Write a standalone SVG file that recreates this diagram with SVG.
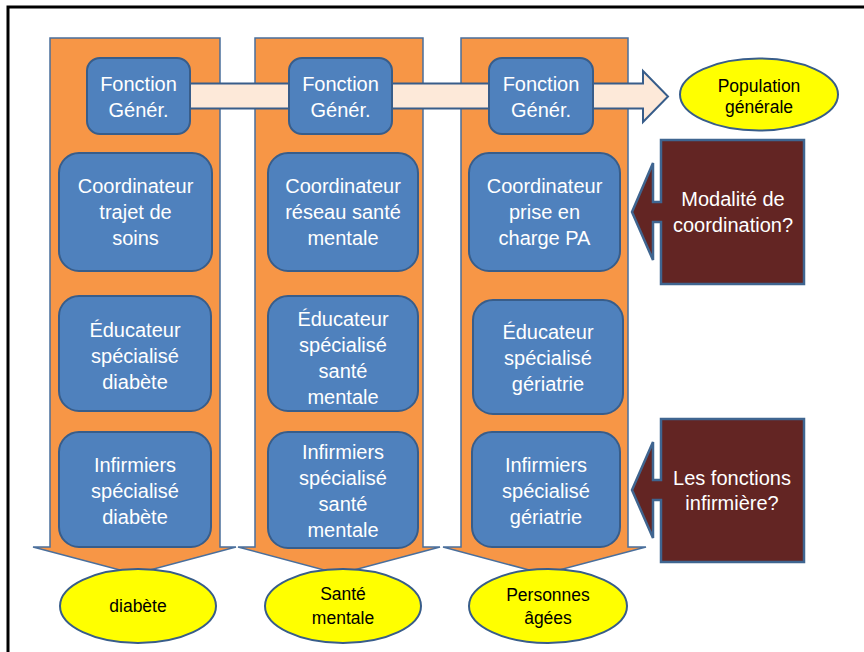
<svg xmlns="http://www.w3.org/2000/svg" width="864" height="652" viewBox="0 0 864 652">
<style>
.col{fill:#f79646;stroke:#4a6f9c;stroke-width:1.5}
.box{fill:#4f81bd;stroke:#385d8a;stroke-width:2}
.bt{font-family:"Liberation Sans",Arial,sans-serif;font-size:20px;fill:#ffffff;text-anchor:middle}
.ell{fill:#ffff00;stroke:#385d8a;stroke-width:2}
.et{font-family:"Liberation Sans",Arial,sans-serif;font-size:17.5px;fill:#000000;text-anchor:middle}
.call{fill:#632523;stroke:#3f6590;stroke-width:2.5}
.ct{font-family:"Liberation Sans",Arial,sans-serif;font-size:20px;fill:#ffffff;text-anchor:middle}
.harr{fill:#fde9d9;stroke:#385d8a;stroke-width:2}
</style>
<rect x="0" y="0" width="864" height="652" fill="#ffffff"/>
<rect x="8" y="7" width="900" height="700" fill="none" stroke="#000000" stroke-width="3"/>

<g id="col-diabete">
<polygon class="col" points="50,38 220,38 220,547 236,547 135,574 33,547 50,547"/>
</g>
<g id="col-sante">
<polygon class="col" points="255,38 423,38 423,547 440,547 339,574 238,547 255,547"/>
</g>
<g id="col-pa">
<polygon class="col" points="461,38 628,38 628,547 646,547 544,574 443,547 461,547"/>
</g>

<g id="connectors">
<polygon class="harr" points="140,83.5 643,83.5 643,71 668,96.5 643,122 643,108.5 140,108.5"/>
</g>

<g id="fg1"><rect class="box" x="87" y="58" width="103" height="76" rx="13"/>
<text class="bt" x="138.5" y="91">Fonction</text><text class="bt" x="138.5" y="117">Génér.</text></g>
<g id="fg2"><rect class="box" x="289" y="58" width="103" height="76" rx="13"/>
<text class="bt" x="340.5" y="91">Fonction</text><text class="bt" x="340.5" y="117">Génér.</text></g>
<g id="fg3"><rect class="box" x="489" y="58" width="104" height="76" rx="13"/>
<text class="bt" x="541" y="91">Fonction</text><text class="bt" x="541" y="117">Génér.</text></g>

<g id="coord1"><rect class="box" x="59" y="153" width="153" height="118" rx="20"/>
<text class="bt" x="135.5" y="193">Coordinateur</text><text class="bt" x="135.5" y="219">trajet de</text><text class="bt" x="135.5" y="245">soins</text></g>
<g id="coord2"><rect class="box" x="268" y="153" width="150" height="118" rx="20"/>
<text class="bt" x="343" y="193">Coordinateur</text><text class="bt" x="343" y="219">réseau santé</text><text class="bt" x="343" y="245">mentale</text></g>
<g id="coord3"><rect class="box" x="469" y="153" width="151" height="118" rx="20"/>
<text class="bt" x="544.5" y="193">Coordinateur</text><text class="bt" x="544.5" y="219">prise en</text><text class="bt" x="544.5" y="245">charge PA</text></g>

<g id="edu1"><rect class="box" x="59" y="296" width="152" height="115" rx="20"/>
<text class="bt" x="135" y="337">Éducateur</text><text class="bt" x="135" y="363">spécialisé</text><text class="bt" x="135" y="389">diabète</text></g>
<g id="edu2"><rect class="box" x="268" y="296" width="150" height="115" rx="20"/>
<text class="bt" x="343" y="326">Éducateur</text><text class="bt" x="343" y="352">spécialisé</text><text class="bt" x="343" y="378">santé</text><text class="bt" x="343" y="404">mentale</text></g>
<g id="edu3"><rect class="box" x="473" y="300" width="150" height="114" rx="20"/>
<text class="bt" x="548" y="339">Éducateur</text><text class="bt" x="548" y="365">spécialisé</text><text class="bt" x="548" y="391">gériatrie</text></g>

<g id="inf1"><rect class="box" x="59" y="432" width="152" height="115" rx="20"/>
<text class="bt" x="135" y="472">Infirmiers</text><text class="bt" x="135" y="498">spécialisé</text><text class="bt" x="135" y="524">diabète</text></g>
<g id="inf2"><rect class="box" x="268" y="432" width="150" height="116" rx="20"/>
<text class="bt" x="343" y="459">Infirmiers</text><text class="bt" x="343" y="485">spécialisé</text><text class="bt" x="343" y="511">santé</text><text class="bt" x="343" y="537">mentale</text></g>
<g id="inf3"><rect class="box" x="472" y="432" width="148" height="115" rx="20"/>
<text class="bt" x="546" y="472">Infirmiers</text><text class="bt" x="546" y="498">spécialisé</text><text class="bt" x="546" y="524">gériatrie</text></g>

<g id="pop"><ellipse class="ell" cx="759" cy="94.5" rx="79" ry="36"/>
<text class="et" x="759" y="92">Population</text><text class="et" x="759" y="113">générale</text></g>

<g id="e-diabete"><ellipse class="ell" cx="138" cy="606" rx="78" ry="37"/>
<text class="et" x="138" y="612">diabète</text></g>
<g id="e-sante"><ellipse class="ell" cx="343" cy="606" rx="78" ry="37"/>
<text class="et" x="343" y="600">Santé</text><text class="et" x="343" y="624">mentale</text></g>
<g id="e-pa"><ellipse class="ell" cx="548" cy="606" rx="79" ry="37"/>
<text class="et" x="548" y="601">Personnes</text><text class="et" x="548" y="624">âgées</text></g>

<g id="callout-coord">
<polygon class="call" points="661,140 804,140 804,284 661,284 661,222 653,222 653,260 632,212 653,163 653,202 661,202"/>
<text class="ct" x="733" y="206">Modalité de</text><text class="ct" x="733" y="232">coordination?</text></g>
<g id="callout-inf">
<polygon class="call" points="661,419 804,419 804,562 661,562 661,500 653,500 653,538 632,490 653,442 653,480 661,480"/>
<text class="ct" x="732" y="485">Les fonctions</text><text class="ct" x="732" y="510">infirmière?</text></g>
</svg>
